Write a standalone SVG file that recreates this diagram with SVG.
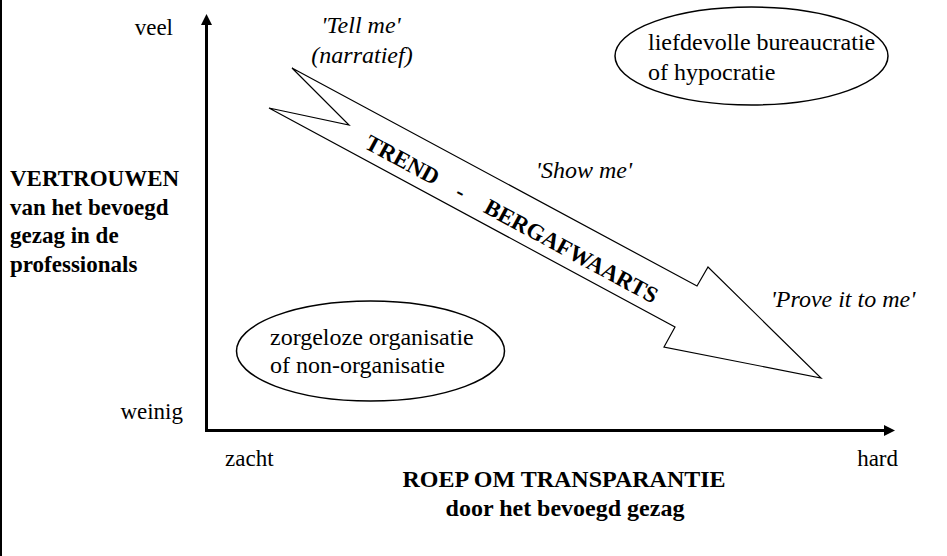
<svg xmlns="http://www.w3.org/2000/svg" width="947" height="556" viewBox="0 0 947 556">
<style>
text{font-family:"Liberation Serif","Times New Roman",serif;font-size:23px;fill:#000}
.b{font-weight:bold}
.i{font-style:italic;font-size:24px}
.l{font-size:24px}
.m{text-anchor:middle}
.e{text-anchor:end}
.ax{stroke:#000;stroke-width:3;fill:none}
.ell{fill:#fff;stroke:#000;stroke-width:1.5}
</style>
<defs>
<marker id="ah" markerUnits="userSpaceOnUse" markerWidth="12" markerHeight="12" refX="1" refY="5.5" orient="auto" viewBox="0 0 12 11">
<path d="M0,0 L11,5.5 L0,11 Z" fill="#000"/>
</marker>
</defs>
<rect width="947" height="556" fill="#fff"/>
<rect x="0" y="0" width="2" height="556" fill="#000"/>
<g id="connectors">
<line class="ax" x1="206.5" y1="432" x2="206.5" y2="24" marker-end="url(#ah)"/>
<line class="ax" x1="205" y1="430.5" x2="885" y2="430.5" marker-end="url(#ah)"/>
</g>
<g id="axis-labels">
<text class="e" x="173" y="35">veel</text>
<text class="e" x="183" y="419">weinig</text>
<text x="225" y="466">zacht</text>
<text class="e" x="898" y="466">hard</text>
<text class="b m l" x="564" y="487">ROEP OM TRANSPARANTIE</text>
<text class="b m l" x="565" y="516">door het bevoegd gezag</text>
<text class="b" x="10" y="186">VERTROUWEN</text>
<text class="b" x="10" y="215">van het bevoegd</text>
<text class="b" x="10" y="243">gezag in de</text>
<text class="b" x="10" y="272">professionals</text>
</g>
<g id="trend-arrow">
<polygon points="292,68 697,286 708,267 821,378 664,347 675,327 269,108 349,125" fill="#fff" stroke="#000" stroke-width="1.2" stroke-linejoin="miter"/>
<g transform="translate(510,221) rotate(28.4)">
<text class="b" x="-164" y="5" font-size="22">TREND</text>
<text class="b m" x="-57" y="5" font-size="22">-</text>
<text class="b e" x="165" y="5" font-size="22">BERGAFWAARTS</text>
</g>
</g>
<g id="tell-me">
<text class="i m" x="361" y="33">'Tell me'</text>
<text class="i m" x="362" y="63">(narratief)</text>
</g>
<g id="show-me"><text class="i m" x="584" y="178">'Show me'</text></g>
<g id="prove-it"><text class="i m" x="843" y="307">'Prove it to me'</text></g>
<g id="liefdevolle">
<ellipse class="ell" cx="751.5" cy="56" rx="136.5" ry="49"/>
<text class="l" x="648" y="50">liefdevolle bureaucratie</text>
<text class="l" x="648" y="80">of hypocratie</text>
</g>
<g id="zorgeloze">
<ellipse class="ell" cx="370.5" cy="351" rx="134" ry="50"/>
<text class="l" x="270" y="345">zorgeloze organisatie</text>
<text class="l" x="270" y="373">of non-organisatie</text>
</g>
</svg>
